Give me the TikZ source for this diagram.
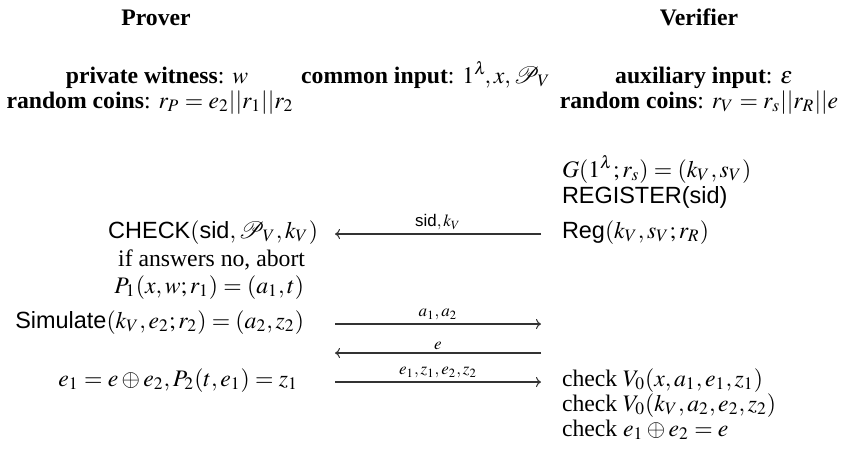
\documentclass[tikz,border=0pt]{standalone}
\usepackage{mathptmx}
\usepackage[no-math]{fontspec}
\setmainfont{Liberation Serif}
\setsansfont{Liberation Sans}[Scale=0.99]
\usetikzlibrary{arrows.meta}
\tikzset{
  txt/.style={inner sep=0pt, outer sep=0pt, font=\fontsize{10.3}{12}\selectfont},
  lft/.style={txt, anchor=base west},
  rgt/.style={txt, anchor=base east},
  ctr/.style={txt, anchor=base},
  msg/.style={draw=black!80, line width=0.45pt, -{To[length=2.2pt,width=4.4pt]}},
  lbl/.style={font=\fontsize{7.4}{8}\selectfont, inner sep=1.4pt, anchor=south}
}
\begin{document}
\begin{tikzpicture}[x=0.4348pt, y=-0.4348pt]
\useasboundingbox (0,0) rectangle (843,466);
% headers
\node[ctr] (prover) at (156,25) {\textbf{Prover}};
\node[ctr] (verifier) at (699,25) {\textbf{Verifier}};
% inputs
\node[ctr] (pw) at (157,83) {\textbf{private witness}: $w$};
\node[ctr] (rcp) at (150,108) {\textbf{random coins}: $r_P = e_2||r_1||r_2$};
\node[ctr] (ci) at (426,83) {\textbf{common input}: $1^{\lambda}\!, x, \mathcal{P}_V$};
\node[ctr] (aux) at (704,83) {\textbf{auxiliary input}: $\varepsilon$};
\node[ctr] (rcv) at (699,108) {\textbf{random coins}: $r_V = r_s||r_R||e$};
% verifier side
\node[lft] (gen) at (562,177) {$G(1^{\lambda}; r_s) = (k_V, s_V)$};
\node[lft] (regi) at (562,203) {\textsf{REGISTER(sid)}};
\node[lft] (reg) at (562,238) {$\textsf{Reg}(k_V, s_V; r_R)$};
\node[lft] (chk1) at (562,386) {check $V_0(x, a_1, e_1, z_1)$};
\node[lft] (chk2) at (562,411) {check $V_0(k_V, a_2, e_2, z_2)$};
\node[lft] (chk3) at (562,436) {check $e_1 \oplus e_2 = e$};
% prover side
\node[rgt] (check) at (318,238) {$\textsf{CHECK}(\textsf{sid}, \mathcal{P}_V, k_V)$};
\node[rgt] (abort) at (305,266) {if answers no, abort};
\node[rgt] (p1) at (304,293) {$P_1(x, w; r_1) = (a_1, t)$};
\node[rgt] (sim) at (304,328) {$\textsf{Simulate}(k_V, e_2; r_2) = (a_2, z_2)$};
\node[rgt] (p2) at (298,386) {$e_1 = e \oplus e_2, P_2(t, e_1) = z_1$};
% message endpoints
\coordinate (m1r) at (541,234);
\coordinate (m1l) at (335,234);
\coordinate (m2l) at (335,324);
\coordinate (m2r) at (541,324);
\coordinate (m3r) at (541,353);
\coordinate (m3l) at (335,353);
\coordinate (m4l) at (335,382);
\coordinate (m4r) at (541,382);
% messages
\draw[msg] (m1r) -- node[lbl] {$\textsf{sid}, k_V$} (m1l);
\draw[msg] (m2l) -- node[lbl] {$a_1, a_2$} (m2r);
\draw[msg] (m3r) -- node[lbl] {$e$} (m3l);
\draw[msg] (m4l) -- node[lbl] {$e_1, z_1, e_2, z_2$} (m4r);
\end{tikzpicture}
\end{document}
